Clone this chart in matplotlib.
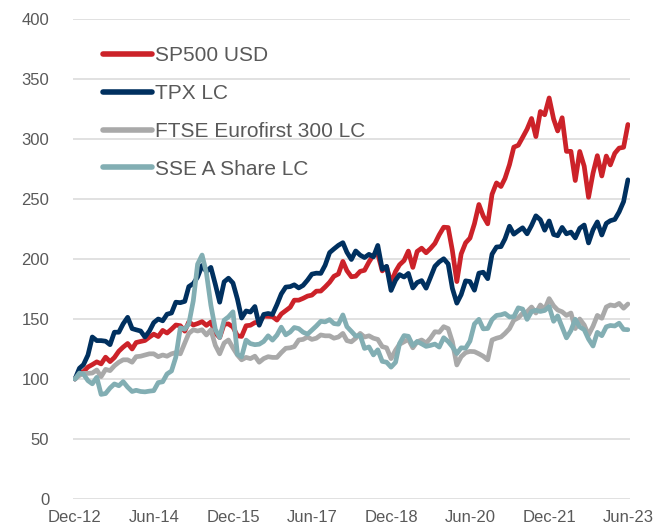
import matplotlib
matplotlib.use("Agg")
import matplotlib.pyplot as plt
import matplotlib.dates as mdates
import pandas as pd

# monthly index levels, Dec-12 = 100
sp500 = [100, 105.0, 106.2, 110.0, 112.0, 114.3, 112.6, 118.2, 114.5, 117.9, 123.2, 126.6, 129.6,
         125.0, 130.4, 131.3, 132.1, 134.9, 137.4, 135.4, 140.5, 138.3, 141.5, 145.0, 144.4,
         139.9, 147.6, 145.0, 146.2, 147.8, 144.7, 147.5, 138.3, 134.6, 145.8, 145.9, 143.3,
         136.0, 135.5, 144.4, 144.8, 147.0, 147.2, 152.4, 152.2, 152.0, 149.1, 154.2, 157.0,
         159.8, 165.7, 165.7, 167.2, 169.1, 169.9, 173.2, 173.3, 176.7, 180.6, 185.6, 187.5,
         198.0, 190.3, 185.2, 185.7, 189.7, 190.6, 197.5, 203.4, 204.3, 190.1, 193.5, 180.0,
         189.6, 195.2, 198.7, 206.6, 193.0, 206.3, 209.0, 205.2, 208.7, 213.0, 220.2, 226.5,
         226.2, 207.1, 181.2, 204.2, 213.5, 217.4, 229.4, 245.4, 235.8, 229.3, 253.9, 263.4,
         260.4, 267.2, 278.6, 293.2, 294.8, 301.3, 308.2, 317.1, 302.0, 322.9, 320.2, 334.2,
         316.6, 306.7, 317.7, 289.7, 289.7, 265.4, 289.6, 277.3, 251.4, 271.5, 286.1, 269.2,
         285.8, 278.4, 288.1, 292.4, 293.1, 312.1]

tpx = [100, 109, 112, 120, 135, 132, 132, 131.5, 128.6, 139, 139, 146, 151.4,
       142, 141, 140, 135, 140, 147, 150, 148.5, 154, 155, 164, 163.6,
       164.7, 177, 179.5, 185, 194.6, 189.6, 193, 178.8, 164, 181, 184, 180,
       166.6, 150.8, 156.7, 155.8, 160.4, 144.8, 153.8, 154.6, 153.8, 162, 170.9, 176.6,
       177, 178.5, 175.9, 178, 182.4, 187.4, 188.2, 188, 194.8, 205.3, 208.4, 211.4,
       213.6, 205.6, 199.6, 206.7, 203.2, 201.2, 203.9, 201.8, 211.3, 191.4, 193.9, 173.8,
       182.3, 187, 185, 188, 175.9, 180.4, 182, 175.7, 184.6, 193.9, 197.6, 200.2,
       195.9, 175.6, 163.2, 170.3, 181.8, 181.2, 174, 188.2, 189, 183.6, 204, 210,
       210.3, 216.8, 227.3, 220.7, 223.5, 226, 221, 228, 236, 232.7, 224, 231.7,
       220.4, 219.4, 226.3, 221, 222.4, 217.6, 225.6, 228.3, 213.4, 224.3, 230.9, 220,
       229.7, 231.9, 233, 239.2, 247.8, 266]

ftse = [100, 103, 104.7, 104.7, 105, 107.5, 102, 108, 107, 111, 114, 116, 116,
        114, 118.6, 119, 120, 121, 121, 118.6, 120, 119, 121, 122, 121,
        130, 138, 141, 140, 141, 136.7, 141, 128, 121, 130, 132.5, 126,
        120, 116, 118, 117, 119, 114, 117, 118.6, 118, 118, 122, 125.6,
        126, 127, 132.5, 133, 135, 133, 134, 136.7, 136, 136, 134, 135,
        138, 132, 131, 134, 138, 135, 136, 134, 133, 127, 126, 117,
        124, 129, 131, 133, 126, 131, 132.5, 130, 134, 139.4, 139, 143.6,
        142, 131, 111.7, 118.6, 122, 123, 122.8, 121, 119, 116, 132.5, 134,
        135, 138, 142, 149, 151, 154.7, 156, 160, 155, 161.7, 158, 167,
        161, 157.5, 156, 153, 155, 142, 150, 145, 136.7, 144, 153, 150.6,
        160, 161.7, 161, 163, 159, 162.5]

sse = [100, 105, 104, 98.6, 96, 101.4, 87.2, 87.9, 92.5, 95.9, 94.4, 97.8, 93.2,
       89.6, 90.6, 89.6, 89.3, 89.9, 90.3, 97, 97.7, 104.2, 106.7, 118.2, 142.6,
       141.5, 145.9, 165.2, 195.7, 203.3, 188.5, 161.5, 141.3, 134.5, 149, 151.8, 156,
       120.7, 118.5, 132.4, 129.5, 128.6, 129, 131.3, 136, 132.4, 136.6, 143.2, 136.8,
       139.2, 142.9, 142, 139, 137.4, 140.7, 144.2, 148.1, 147.6, 149.5, 146.2, 145.7,
       153.4, 143.6, 139.7, 135.8, 136.4, 125.5, 126.7, 120.1, 124.3, 114.7, 114, 109.9,
       113.9, 129.6, 136.2, 135.6, 127.8, 131.3, 129.3, 127.2, 128, 129.1, 126.6, 134.4,
       131.2, 126.9, 121.2, 126, 125.7, 131.6, 145.9, 149.7, 141.8, 142.1, 149.5, 153,
       153.5, 154.6, 151.7, 151.9, 159.3, 158.3, 149.7, 156.2, 157.2, 156.3, 157.1, 160.4,
       148.1, 152.6, 143.3, 134.3, 140.4, 149.8, 143.4, 141.1, 133.3, 127.5, 138.9, 136.1,
       143.5, 144.6, 144.2, 146.5, 141.3, 141.1]

names = ["SP500 USD", "TPX LC", "FTSE Eurofirst 300 LC", "SSE A Share LC"]
colors = ["#CC2229", "#00305F", "#A9A9A9", "#82AEB3"]

dates = pd.date_range("2012-12-31", periods=len(sp500), freq="ME")

plt.rcParams["font.family"] = ["Liberation Sans", "DejaVu Sans"]
fig = plt.figure(figsize=(6.61, 5.26), dpi=100)
ax = fig.add_axes([0.1104, 0.0513, 0.8426, 0.9126])

for vals, name, c in zip([sp500, tpx, ftse, sse], names, colors):
    ax.plot(dates, vals, color=c, lw=3.4, label=name,
            solid_joinstyle="round", solid_capstyle="round")

ax.set_ylim(0, 400)
ax.set_yticks(range(0, 401, 50))
ax.set_xlim(dates[0] - pd.Timedelta(days=14), dates[-1] + pd.Timedelta(days=14))
ticks = [dates[i] for i in range(0, len(dates), 18)]
ax.set_xticks(ticks)
ax.xaxis.set_major_formatter(mdates.DateFormatter("%b-%y"))

ax.grid(axis="y", color="#D9D9D9", lw=1.1)
ax.set_axisbelow(True)
for s in ax.spines.values():
    s.set_visible(False)
ax.tick_params(axis="both", length=0, labelsize=12, labelcolor="#595959")
ax.tick_params(axis="y", pad=17)
ax.tick_params(axis="x", pad=8)

leg = ax.legend(loc="upper left", bbox_to_anchor=(0.054, 0.943), frameon=False,
                fontsize=15, handlelength=2.35, handletextpad=0.15,
                labelspacing=0.9, borderpad=0, borderaxespad=0)
for t in leg.get_texts():
    t.set_color("#595959")
for h in leg.get_lines():
    h.set_linewidth(4)

fig.savefig("out.png", dpi=100)
